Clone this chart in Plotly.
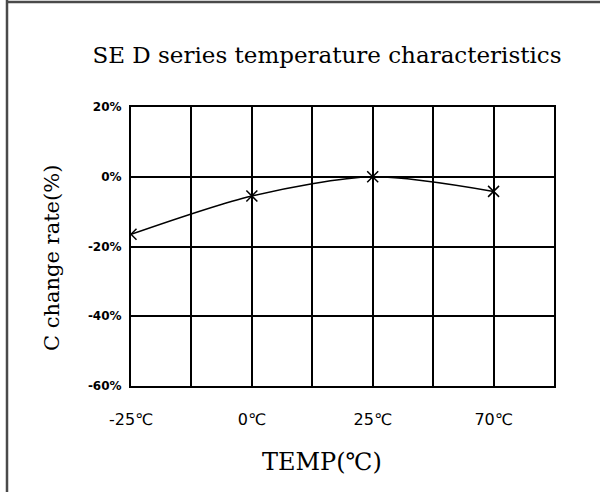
import plotly.graph_objects as go

# ---- data ----
temps = ["-25℃", "0℃", "25℃", "70℃"]
change_rate = [-16.5, -5.5, 0.0, -4.2]
# category layout of the grid (blank spacer columns between temperatures)
x_categories = ["-25℃", " ", "0℃", "  ", "25℃", "   ", "70℃", "    "]
y_ticks = [20, 0, -20, -40, -60]
y_tick_labels = ["20%", "0%", "-20%", "-40%", "-60%"]

W, H = 600, 492
L, R, T, B = 131, 46, 107, 106
pw, ph = W - L - R, H - T - B

def px(x):
    return (x - L) / pw

def py(y):
    return (H - B - y) / ph

fig = go.Figure()
fig.add_trace(go.Scatter(
    x=temps, y=change_rate, mode="lines+markers",
    line=dict(color="black", width=1.5, shape="spline", smoothing=0.8),
    marker=dict(symbol="x-thin", size=11, line=dict(color="black", width=1.5)),
    showlegend=False, hoverinfo="skip",
))

fig.update_layout(
    width=W, height=H,
    margin=dict(l=L, r=R, t=T, b=B),
    paper_bgcolor="white", plot_bgcolor="white",
    title=dict(text="SE D series temperature characteristics",
               x=327 / W, xanchor="center", xref="container",
               y=1 - 55 / H, yanchor="middle",
               font=dict(family="DejaVu Serif", size=23, color="black")),
    xaxis=dict(type="category", categoryorder="array", categoryarray=x_categories,
               tickvals=x_categories, range=[0, 7],
               showgrid=True, gridcolor="black", gridwidth=2,
               showline=True, linecolor="black", linewidth=2, mirror=True,
               ticks="", ticklabelstandoff=18, zeroline=False,
               tickfont=dict(family="DejaVu Sans", size=16, color="black")),
    yaxis=dict(range=[-60, 20], tickvals=y_ticks, ticktext=y_tick_labels,
               showgrid=True, gridcolor="black", gridwidth=2,
               showline=True, linecolor="black", linewidth=2, mirror=True,
               ticks="", ticklabelstandoff=5, zeroline=False,
               tickfont=dict(family="DejaVu Sans", size=12, color="black", weight="bold")),
    annotations=[
        dict(text="C change rate(%)", xref="paper", yref="paper",
             x=px(52), y=py(258), textangle=-90, showarrow=False,
             xanchor="center", yanchor="middle",
             font=dict(family="DejaVu Serif", size=21, color="black")),
        dict(text="TEMP(℃)", xref="paper", yref="paper",
             x=px(322), y=py(462), showarrow=False,
             xanchor="center", yanchor="middle",
             font=dict(family="DejaVu Serif", size=24, color="black")),
    ],
    shapes=[
        dict(type="line", xref="paper", yref="paper", x0=px(7), x1=px(7),
             y0=py(0), y1=py(H + 5), line=dict(color="#4a4a4a", width=2.5)),
        dict(type="line", xref="paper", yref="paper", x0=px(6), x1=px(W + 5),
             y0=py(2), y1=py(2), line=dict(color="#4a4a4a", width=2.5)),
    ],
)

fig.write_html("out.html", config={"displayModeBar": False},
               post_script="document.body.style.margin='0';")
